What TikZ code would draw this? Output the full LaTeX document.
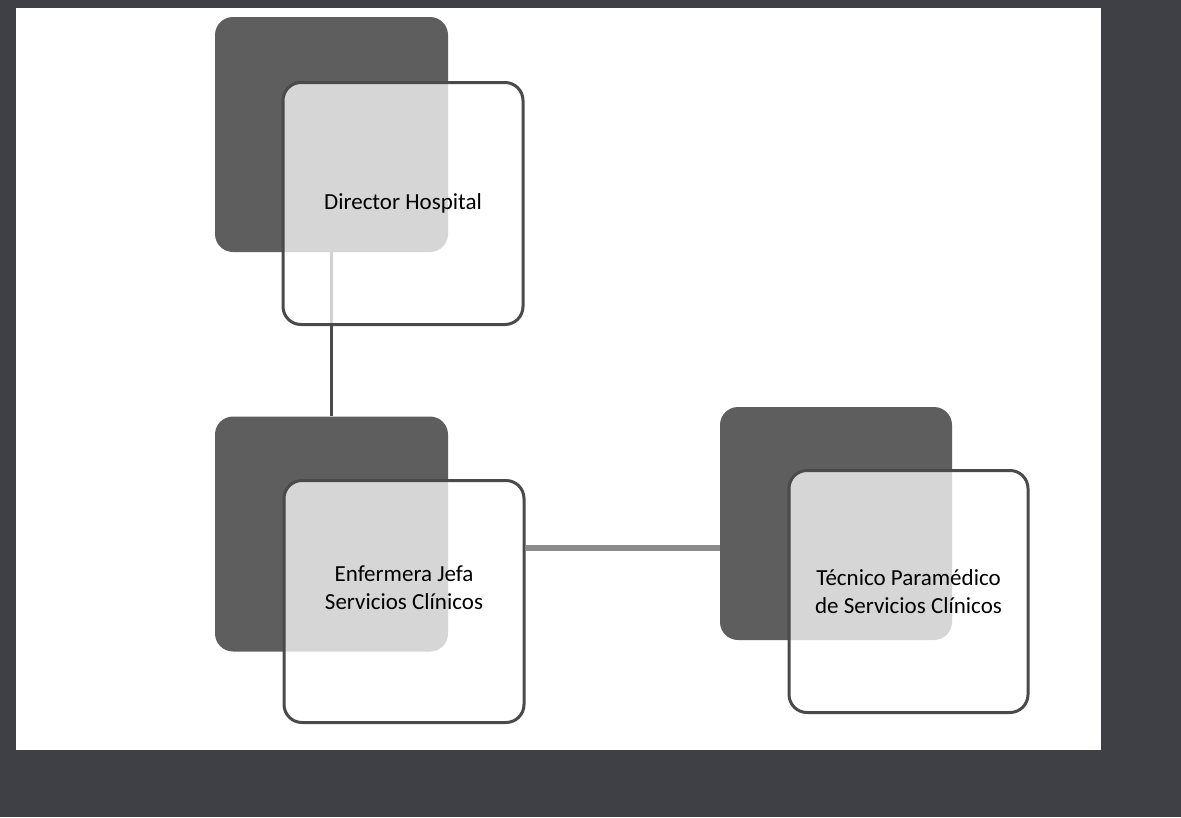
\documentclass[tikz,border=0pt]{standalone}
\usepackage{fontspec}
\setmainfont{Carlito}
\definecolor{scanback}{HTML}{3F4045}
\definecolor{boxdark}{HTML}{5E5E5E}
\definecolor{boxline}{HTML}{4A4A4A}
\definecolor{linkgray}{HTML}{8C8C8C}
\tikzset{
  darkbox/.style={fill=boxdark, rounded corners=18pt, minimum width=233pt, minimum height=235pt, inner sep=0pt},
  frontbox/.style={draw=boxline, line width=3pt, fill=white, fill opacity=0.75, text opacity=1, rounded corners=18pt,
    minimum width=240pt, minimum height=242pt, inner sep=0pt, align=center, font=\fontsize{23}{28}\selectfont},
  vlink/.style={draw=boxline, line width=3pt},
  hlink/.style={draw=linkgray, line width=6pt}
}
\begin{document}
\begin{tikzpicture}[x=1pt, y=-1pt]
% scanned page border
\fill[scanback] (0,0) rectangle (1181,817);
\fill[white] (16,8) rectangle (1101,750);

\coordinate (top) at (331.5,252);
\coordinate (bot) at (331.5,416);
\draw[vlink] (top) -- (bot);

\node[darkbox] (dk1) at (331.5,134.5) {};
\node[darkbox] (dk2) at (331.5,534) {};
\node[darkbox, minimum width=232pt, minimum height=233pt] (dk3) at (836,523.5) {};

\node[frontbox] (fr1) at (403,203.5) {Director Hospital};
\node[frontbox] (fr2) at (404,601.5) {Enfermera Jefa\\Servicios Clínicos\\[0pt]};
\node[frontbox, minimum width=239pt] (fr3) at (908.5,591.5) {Técnico Paramédico\\de Servicios Clínicos};

\draw[hlink] ([yshift=53.5pt]fr2.east) -- ([yshift=53.5pt]fr2.east -| dk3.west);
\end{tikzpicture}
\end{document}
